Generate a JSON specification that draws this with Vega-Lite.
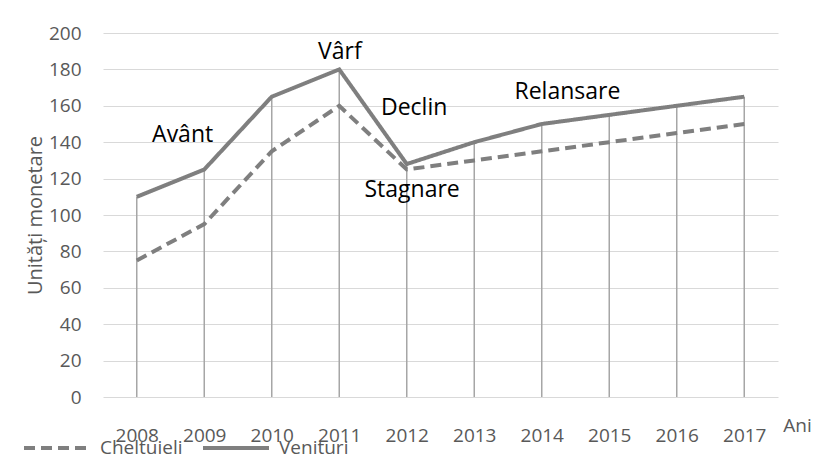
{
  "$schema": "https://vega.github.io/schema/vega-lite/v6.json",
  "width": 675,
  "height": 364,
  "autosize": "none",
  "padding": {"left": 103, "top": 33, "right": 45, "bottom": 67},
  "background": "white",
  "config": {
    "font": "Open Sans",
    "view": {"stroke": null}
  },
  "datasets": {
    "series": [
      {"an": 2008, "serie": "Venituri", "valoare": 110},
      {"an": 2009, "serie": "Venituri", "valoare": 125},
      {"an": 2010, "serie": "Venituri", "valoare": 165},
      {"an": 2011, "serie": "Venituri", "valoare": 180},
      {"an": 2012, "serie": "Venituri", "valoare": 128},
      {"an": 2013, "serie": "Venituri", "valoare": 140},
      {"an": 2014, "serie": "Venituri", "valoare": 150},
      {"an": 2015, "serie": "Venituri", "valoare": 155},
      {"an": 2016, "serie": "Venituri", "valoare": 160},
      {"an": 2017, "serie": "Venituri", "valoare": 165},
      {"an": 2008, "serie": "Cheltuieli", "valoare": 75},
      {"an": 2009, "serie": "Cheltuieli", "valoare": 95},
      {"an": 2010, "serie": "Cheltuieli", "valoare": 135},
      {"an": 2011, "serie": "Cheltuieli", "valoare": 160},
      {"an": 2012, "serie": "Cheltuieli", "valoare": 125},
      {"an": 2013, "serie": "Cheltuieli", "valoare": 130},
      {"an": 2014, "serie": "Cheltuieli", "valoare": 135},
      {"an": 2015, "serie": "Cheltuieli", "valoare": 140},
      {"an": 2016, "serie": "Cheltuieli", "valoare": 145},
      {"an": 2017, "serie": "Cheltuieli", "valoare": 150}
    ],
    "notes": [
      {"an": 2008.68, "valoare": 144, "text": "Avânt"},
      {"an": 2011.01, "valoare": 189.5, "text": "Vârf"},
      {"an": 2012.11, "valoare": 158.8, "text": "Declin"},
      {"an": 2012.08, "valoare": 113.7, "text": "Stagnare"},
      {"an": 2014.38, "valoare": 167.6, "text": "Relansare"}
    ]
  },
  "encoding": {
    "x": {
      "field": "an", "type": "quantitative",
      "scale": {"domain": [2007.5, 2017.5], "nice": false, "zero": false},
      "axis": {
        "values": [2008, 2009, 2010, 2011, 2012, 2013, 2014, 2015, 2016, 2017],
        "format": "d",
        "grid": false, "domain": false, "ticks": false,
        "labelPadding": 29, "labelFontSize": 19, "labelColor": "#595959",
        "labelFlush": false, "labelOverlap": false,
        "title": "Ani", "titleFontSize": 19, "titleFontWeight": "normal", "titleColor": "#595959",
        "titleX": 694, "titleY": 28, "titleAlign": "center", "titleBaseline": "middle"
      }
    },
    "y": {
      "field": "valoare", "type": "quantitative",
      "scale": {"domain": [0, 200], "nice": false},
      "axis": {
        "values": [0, 20, 40, 60, 80, 100, 120, 140, 160, 180, 200],
        "tickCount": 11,
        "grid": true, "gridColor": "#d9d9d9", "gridWidth": 1,
        "domain": false, "ticks": false,
        "labelPadding": 22, "labelFontSize": 19, "labelColor": "#595959",
        "labelOverlap": false, "labelFlush": false,
        "title": "Unități monetare", "titleFontSize": 20, "titleFontWeight": "normal", "titleColor": "#595959",
        "titleX": -68, "titleY": 182, "titleAngle": 270, "titleAlign": "center", "titleBaseline": "middle"
      }
    }
  },
  "layer": [
    {
      "data": {"name": "series"},
      "transform": [{"filter": "datum.serie === 'Venituri'"}],
      "mark": {"type": "rule", "color": "#a6a6a6", "strokeWidth": 1.5},
      "encoding": {
        "y2": {"datum": 0}
      }
    },
    {
      "data": {"name": "series"},
      "mark": {"type": "line", "color": "#7f7f7f", "strokeWidth": 4},
      "encoding": {
        "strokeDash": {
          "field": "serie", "type": "nominal",
          "scale": {"domain": ["Cheltuieli", "Venituri"], "range": [[11, 6], [1, 0]]},
          "legend": {
            "title": null, "orient": "none", "direction": "horizontal",
            "legendX": -81, "legendY": 380,
            "symbolType": "stroke", "symbolSize": 4356, "symbolStrokeWidth": 4,
            "symbolStrokeColor": "#7f7f7f",
            "labelFontSize": 19, "labelColor": "#595959", "labelOffset": 8,
            "columnPadding": 12
          }
        }
      }
    },
    {
      "data": {"name": "notes"},
      "mark": {"type": "text", "fontSize": 23, "color": "#000000", "align": "center", "baseline": "middle"},
      "encoding": {
        "text": {"field": "text"}
      }
    }
  ]
}
